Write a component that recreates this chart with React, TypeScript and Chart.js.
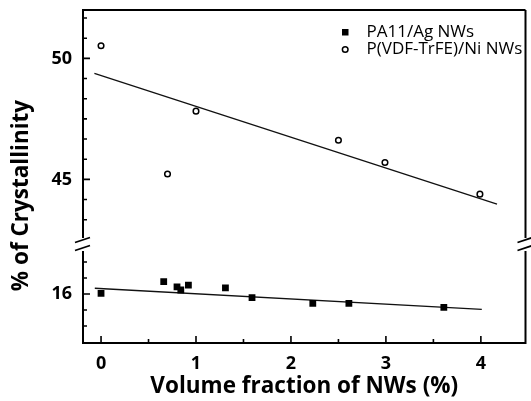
import React, { useEffect, useRef } from "react";
import { Chart, registerables } from "chart.js";

Chart.register(...registerables);

// ---- data ----
const pa11X = [0, 0.66, 0.8, 0.84, 0.92, 1.31, 1.59, 2.23, 2.61, 3.61];
const pa11Y = [16.04, 16.77, 16.45, 16.25, 16.56, 16.39, 15.77, 15.42, 15.42, 15.17];
const pvdfX = [0, 0.7, 1.0, 2.5, 2.99, 3.99];
const pvdfY = [50.52, 45.22, 47.82, 46.62, 45.7, 44.39];
const pa11FitX = [-0.066, 4.01];
const pa11FitY = [16.36, 15.04];
const pvdfFitX = [-0.07, 4.17];
const pvdfFitY = [49.38, 43.98];

const xTicks = [0, 0.5, 1, 1.5, 2, 2.5, 3, 3.5, 4];
const xLabels = [0, 1, 2, 3, 4];
const topTicks = [43.3333, 44.1667, 45, 45.8333, 46.6667, 47.5, 48.3333, 49.1667, 50, 50.8333, 51.6667];
const topLabels = [45, 50];
const bottomTicks = [14, 15, 16, 17, 18];
const bottomLabels = [16];

const seriesNames = ["PA11/Ag NWs", "P(VDF-TrFE)/Ni NWs"];
const xTitle = "Volume fraction of NWs (%)";
const yTitle = "% of Crystallinity";

const FONT = "'Open Sans', sans-serif";

const pts = (xs: number[], ys: number[]) => xs.map((x, i) => ({ x, y: ys[i] }));

const noPad = (s: any) => {
  s.paddingTop = 0;
  s.paddingBottom = 0;
  s.paddingLeft = 0;
  s.paddingRight = 0;
};

const decorPlugin = {
  id: "decor",
  afterDraw(chart: any) {
    const ctx = chart.ctx;
    const { left, right, top, bottom } = chart.chartArea;
    const xs = chart.scales.x;
    const yt = chart.scales.yTop;
    const yb = chart.scales.yBottom;
    ctx.save();
    ctx.strokeStyle = "#000";
    ctx.lineCap = "butt";
    // top + right frame
    ctx.lineWidth = 2;
    ctx.beginPath();
    ctx.moveTo(left - 1, top);
    ctx.lineTo(right, top);
    ctx.moveTo(right, top);
    ctx.lineTo(right, bottom + 1);
    ctx.stroke();
    // inward ticks
    ctx.lineWidth = 1.6;
    ctx.beginPath();
    xTicks.forEach((v) => {
      const p = xs.getPixelForValue(v);
      const len = xLabels.includes(v) ? 7 : 4;
      ctx.moveTo(p, bottom);
      ctx.lineTo(p, bottom - len);
    });
    topTicks.forEach((v) => {
      const p = yt.getPixelForValue(v);
      const len = topLabels.includes(v) ? 7 : 4;
      ctx.moveTo(left, p);
      ctx.lineTo(left + len, p);
    });
    bottomTicks.forEach((v) => {
      const p = yb.getPixelForValue(v);
      const len = bottomLabels.includes(v) ? 7 : 4;
      ctx.moveTo(left, p);
      ctx.lineTo(left + len, p);
    });
    ctx.stroke();
    // axis breaks
    const b = yt.bottom;
    [left, right].forEach((ax) => {
      ctx.fillStyle = "#fff";
      ctx.fillRect(ax - 2, b - 6, 4, 13);
      ctx.lineWidth = 1.8;
      ctx.beginPath();
      ctx.moveTo(ax - 8, b - 1.5);
      ctx.lineTo(ax + 7, b - 6.5);
      ctx.moveTo(ax - 8, b + 6.5);
      ctx.lineTo(ax + 7, b + 1.5);
      ctx.stroke();
    });
    // y title
    ctx.fillStyle = "#000";
    ctx.font = `bold 22.5px ${FONT}`;
    ctx.textAlign = "center";
    ctx.textBaseline = "middle";
    ctx.translate(22, 195.5);
    ctx.rotate(-Math.PI / 2);
    ctx.fillText(yTitle, 0, 0);
    ctx.restore();
    // legend
    ctx.save();
    ctx.fillStyle = "#000";
    ctx.fillRect(342, 29, 6.5, 6.5);
    ctx.beginPath();
    ctx.arc(345.2, 49.5, 2.8, 0, Math.PI * 2);
    ctx.fillStyle = "#fff";
    ctx.fill();
    ctx.lineWidth = 1.5;
    ctx.strokeStyle = "#000";
    ctx.stroke();
    ctx.fillStyle = "#000";
    ctx.font = `17px ${FONT}`;
    ctx.textAlign = "left";
    ctx.textBaseline = "middle";
    ctx.fillText(seriesNames[0], 366.5, 32);
    ctx.fillText(seriesNames[1], 366.5, 49.5);
    ctx.restore();
  },
};

export default function App() {
  const ref = useRef<HTMLCanvasElement>(null);
  useEffect(() => {
    document.body.style.margin = "0";
    const tickFont = { family: FONT, size: 18, weight: "bold" as const };
    const chart = new Chart(ref.current!, {
      type: "scatter",
      data: {
        datasets: [
          {
            label: seriesNames[0],
            data: pts(pa11X, pa11Y),
            yAxisID: "yBottom",
            pointStyle: "rect",
            pointRadius: 4.8,
            backgroundColor: "#000",
            borderColor: "#000",
            borderWidth: 0,
          },
          {
            label: seriesNames[1],
            data: pts(pvdfX, pvdfY),
            yAxisID: "yTop",
            pointStyle: "circle",
            pointRadius: 2.8,
            backgroundColor: "#fff",
            borderColor: "#000",
            borderWidth: 1.5,
          },
          {
            label: "fit1",
            data: pts(pa11FitX, pa11FitY),
            yAxisID: "yBottom",
            showLine: true,
            pointRadius: 0,
            borderColor: "#111",
            borderWidth: 1.3,
          },
          {
            label: "fit2",
            data: pts(pvdfFitX, pvdfFitY),
            yAxisID: "yTop",
            showLine: true,
            pointRadius: 0,
            borderColor: "#111",
            borderWidth: 1.3,
          },
        ],
      },
      options: {
        responsive: false,
        animation: false,
        layout: { padding: { top: 10, right: 1, left: 0, bottom: 0 } },
        plugins: { legend: { display: false }, tooltip: { enabled: false } },
        scales: {
          x: {
            type: "linear",
            position: "bottom",
            min: -0.19,
            max: 4.47,
            afterBuildTicks: (s: any) => {
              s.ticks = xTicks.map((v) => ({ value: v }));
            },
            afterFit: (s: any) => {
              s.height = 58;
              noPad(s);
            },
            ticks: {
              autoSkip: false,
              maxRotation: 0,
              padding: 10,
              color: "#000",
              font: tickFont,
              callback: (v: any) => (xLabels.includes(v) ? String(v) : ""),
            },
            grid: { display: false, drawTicks: false },
            border: { display: true, color: "#000", width: 2 },
            title: {
              display: true,
              text: xTitle,
              color: "#000",
              font: { family: FONT, size: 22.5, weight: "bold" },
              padding: { top: 0, bottom: 1 },
            },
          },
          yBottom: {
            type: "linear",
            position: "left",
            stack: "y",
            stackWeight: 99,
            min: 12.94,
            max: 19.125,
            afterBuildTicks: (s: any) => {
              s.ticks = bottomTicks.map((v) => ({ value: v }));
            },
            afterFit: (s: any) => {
              s.width = 83;
              noPad(s);
            },
            ticks: {
              autoSkip: false,
              padding: 11,
              color: "#000",
              font: tickFont,
              callback: (v: any) => (bottomLabels.includes(v) ? String(v) : ""),
            },
            grid: { display: false, drawTicks: false },
            border: { display: true, color: "#000", width: 2 },
          },
          yTop: {
            type: "linear",
            position: "left",
            stack: "y",
            stackWeight: 234,
            min: 42.33,
            max: 52.0,
            afterBuildTicks: (s: any) => {
              s.ticks = topTicks.map((v) => ({ value: v }));
            },
            afterFit: (s: any) => {
              s.width = 83;
              noPad(s);
            },
            ticks: {
              autoSkip: false,
              padding: 11,
              color: "#000",
              font: tickFont,
              callback: (v: any) => (topLabels.includes(v) ? String(v) : ""),
            },
            grid: { display: false, drawTicks: false },
            border: { display: true, color: "#000", width: 2 },
          },
        },
      },
      plugins: [decorPlugin],
    });
    return () => chart.destroy();
  }, []);
  return (
    <div style={{ width: 531, height: 401 }}>
      <canvas ref={ref} width={531} height={401} />
    </div>
  );
}
